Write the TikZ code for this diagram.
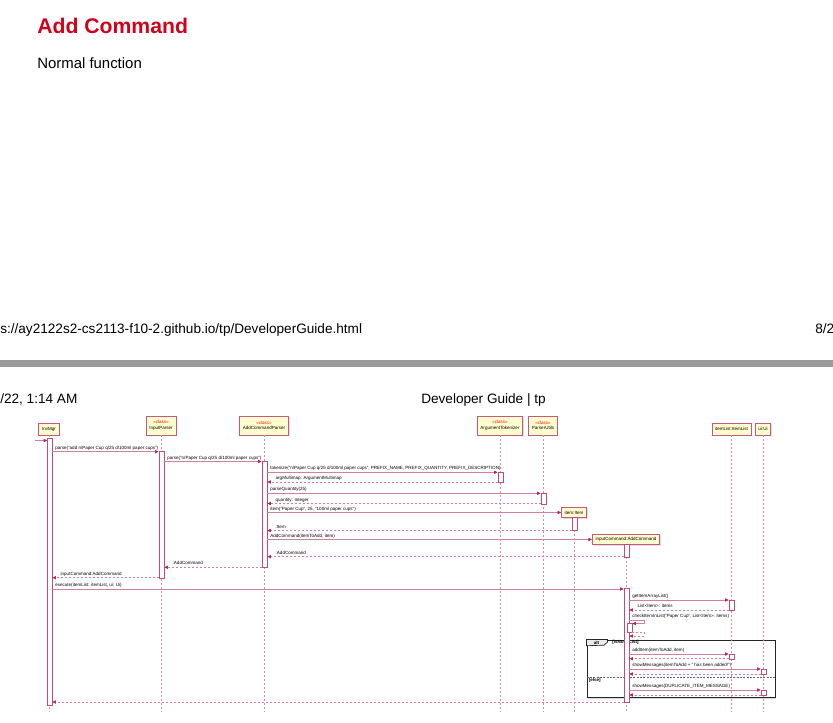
\documentclass[tikz,border=0pt]{standalone}
\usepackage{fontspec}
\setmainfont{Liberation Sans}
\usetikzlibrary{arrows.meta, positioning, fit, shadows}
\definecolor{umlred}{HTML}{A80036}
\definecolor{umlfill}{HTML}{FEFECE}
\definecolor{headred}{HTML}{D0021B}
\definecolor{bargray}{HTML}{9B9B9B}
\newcommand{\seqfont}{\fontsize{3.4}{4.1}\selectfont}
\newcommand{\stereo}{{\color{red}\itshape «class»}}

\begin{document}
\begin{tikzpicture}[x=0.75pt, y=-0.75pt,
    part/.style={draw=umlred!65, fill=umlfill, line width=0.6pt,
                 inner xsep=2.4pt, inner ysep=0pt, minimum height=9pt,
                 align=center, font=\seqfont,
                 drop shadow={shadow xshift=0.9pt, shadow yshift=-0.9pt, opacity=0.25}},
    cpart/.style={part, minimum height=14.25pt},
    act/.style={draw=umlred!70, fill=white, line width=0.55pt, inner sep=0pt},
    life/.style={draw=umlred!45, line width=0.4pt, dash pattern=on 1.5pt off 1.5pt},
    call/.style={draw=umlred!50, line width=0.5pt,
                 -{Triangle[length=2.6pt, width=2.4pt, color=umlred!85]}},
    ret/.style={call, dash pattern=on 1.5pt off 1.5pt},
    lbl/.style={font=\seqfont, anchor=base west, inner sep=0pt, xshift=2pt, yshift=1.8pt},
    rlbl/.style={lbl, xshift=4pt},
    head/.style={anchor=base west, inner sep=0pt, font=\fontsize{10.2}{12}\selectfont}
]
\useasboundingbox (0,0) rectangle (833,723);
\clip (0,0) rectangle (833,723);

% Page text
\node[anchor=base west, inner sep=0pt, text=headred,
      font=\fontsize{15.9}{19}\selectfont\bfseries] (title) at (37,34) {Add Command};
\node[anchor=base west, inner sep=0pt, font=\fontsize{11.2}{13}\selectfont] (sub) at (37,69) {Normal function};
\node[head] (url) at (0,333.5) {s://ay2122s2-cs2113-f10-2.github.io/tp/DeveloperGuide.html};
\node[head] (pgno) at (815,333.5) {8/2};
\fill[bargray] (0,360) rectangle (833,367);
\node[head] (date) at (0,403.5) {/22, 1:14 AM};
\node[head] (doctitle) at (421,403.5) {Developer Guide | tp};

% Participants
\node[part]  (pIM)  at (49,429)    {InvMgr};
\node[cpart] (pIP)  at (161,425.5) {\stereo\\InputParser};
\node[cpart] (pACP) at (264,425.5) {\stereo\\AddCommandParser};
\node[cpart] (pAT)  at (500,425.5) {\stereo\\ArgumentTokenizer};
\node[cpart] (pPU)  at (543,425.5) {\stereo\\ParserUtils};
\node[part]  (pIL)  at (731.5,429) {itemList:ItemList};
\node[part]  (pUI)  at (763,429)   {ui:Ui};
\node[part, minimum height=8pt] (pIT) at (574,512.5) {item:Item};
\node[part, minimum height=8pt] (pIC) at (626,539.5) {inputCommand:AddCommand};

% alt frame
\node[fit={(587,640) (775,697.5)}, inner sep=0pt, draw=black!85, fill=white, line width=0.7pt,
      drop shadow={shadow xshift=0.9pt, shadow yshift=-0.9pt, opacity=0.3}] (altbox) {};
\draw[fill=black!8, draw=black!85, line width=0.5pt] (altbox.north west) -- ++(21,0) -- ++(0,2.5)
    -- ++(-3.5,3.2) -- (altbox.north west |- 0,645.7) -- cycle;
\node[font=\seqfont\bfseries, inner sep=0pt] (alttag) at (596.5,642.8) {alt};
\node[font=\seqfont\bfseries, anchor=base west, inner sep=0pt] (guard) at (612,644) {[isNotInList]};
\draw[black!60, line width=0.4pt, dash pattern=on 1.5pt off 1pt]
    (altbox.west |- 0,677.5) -- (altbox.east |- 0,677.5);
\node[font=\seqfont\bfseries, anchor=base west, inner sep=0pt] (elseg) at (588.5,682) {[else]};

% Lifelines
\foreach \p in {pIM, pIP, pACP, pAT, pPU, pIL, pUI, pIT, pIC}
    \draw[life] (\p.south) -- (\p.south |- 0,712);

% Activations
\node[act, fit={(47.5,438) (52,705)}]     (aIM)  {};
\node[act, fit={(159,451) (164,578)}]     (aIP)  {};
\node[act, fit={(262,461) (267,567.5)}]   (aACP) {};
\node[act, fit={(498,472) (503,482.7)}]   (aAT)  {};
\node[act, fit={(541,493.3) (546,504)}]   (aPU)  {};
\node[act, fit={(572,517) (577,530.5)}]   (aIT)  {};
\node[act, fit={(624,544) (629,557)}]     (aIC1) {};
\node[act, fit={(624,588.5) (629,702)}]   (aIC2) {};
\node[act, fit={(627,623.5) (632,632.5)}] (aIC3) {};
\node[act, fit={(729,600) (734,610.7)}]   (aIL1) {};
\node[act, fit={(729,654) (734,659.5)}]   (aIL2) {};
\node[act, fit={(761,669) (766,674.5)}]   (aUI1) {};
\node[act, fit={(761,690) (766,695)}]     (aUI2) {};

% Parsing
\coordinate (found) at (35,440.5);
\draw[call] (found) -- (aIM.west |- found);
\draw[call] (aIM.east |- 0,451.7) -- node[lbl, pos=0]
    {parse("add n/Paper Cup q/25 d/100ml paper cups")} (aIP.west |- 0,451.7);
\draw[call] (aIP.east |- 0,461.5) -- node[lbl, pos=0]
    {parse("n/Paper Cup q/25 d/100ml paper cups")} (aACP.west |- 0,461.5);
\draw[call] (aACP.east |- 0,472.3) -- node[lbl, pos=0]
    {tokenize("n/Paper Cup q/25 d/100ml paper cups", PREFIX\_NAME, PREFIX\_QUANTITY, PREFIX\_DESCRIPTION)}
    (aAT.west |- 0,472.3);
\draw[ret] (aAT.west |- 0,482) -- node[rlbl, pos=1] {argMultimap: ArgumentMultimap} (aACP.east |- 0,482);
\draw[call] (aACP.east |- 0,493.3) -- node[lbl, pos=0] {parseQuantity(25)} (aPU.west |- 0,493.3);
\draw[ret] (aPU.west |- 0,503.5) -- node[rlbl, pos=1] {quantity: Integer} (aACP.east |- 0,503.5);
\draw[call] (aACP.east |- pIT.west) -- node[lbl, pos=0]
    {item("Paper Cup", 25, "100ml paper cups")} (pIT.west);
\draw[ret] (aIT.west |- 0,530.5) -- node[rlbl, pos=1] {:Item} (aACP.east |- 0,530.5);
\draw[call] (aACP.east |- pIC.west) -- node[lbl, pos=0] {AddCommand(itemToAdd, item)} (pIC.west);
\draw[ret] (aIC1.west |- 0,556.7) -- node[rlbl, pos=1] {:AddCommand} (aACP.east |- 0,556.7);
\draw[ret] (aACP.west |- 0,567.3) -- node[rlbl, pos=1] {:AddCommand} (aIP.east |- 0,567.3);
\draw[ret] (aIP.west |- 0,577.7) -- node[rlbl, pos=1] {inputCommand:AddCommand} (aIM.east |- 0,577.7);

% Execution
\draw[call] (aIM.east |- 0,589) -- node[lbl, pos=0]
    {execute(itemList: itemList, ui: Ui)} (aIC2.west |- 0,589);
\draw[call] (aIC2.east |- 0,600) -- node[lbl, pos=0] {getItemArrayList()} (aIL1.west |- 0,600);
\draw[ret] (aIL1.west |- 0,610) -- node[rlbl, pos=1] {List<Item>: items} (aIC2.east |- 0,610);
\draw[call] (aIC2.east |- 0,620) node[lbl] {checkItemInList("Paper Cup", List<Item>: items)}
    -- ++(15,0) |- (aIC3.east |- 0,623.5);
\draw[ret] (aIC3.east |- 0,632) -- ++(12,0) |- (aIC2.east |- 0,636);
\draw[call] (aIC2.east |- 0,654) -- node[lbl, pos=0] {addItem(itemToAdd, item)} (aIL2.west |- 0,654);
\draw[ret] (aIL2.west |- 0,658.7) -- (aIC2.east |- 0,658.7);
\draw[call] (aIC2.east |- 0,669) -- node[lbl, pos=0]
    {showMessages(itemToAdd + " has been added!")} (aUI1.west |- 0,669);
\draw[ret] (aUI1.west |- 0,674) -- (aIC2.east |- 0,674);
\draw[call] (aIC2.east |- 0,690) -- node[lbl, pos=0]
    {showMessages(DUPLICATE\_ITEM\_MESSAGE)} (aUI2.west |- 0,690);
\draw[ret] (aUI2.west |- 0,695) -- (aIC2.east |- 0,695);
\draw[ret] (aIC2.west |- 0,702) -- (aIM.east |- 0,702);

\end{tikzpicture}
\end{document}
